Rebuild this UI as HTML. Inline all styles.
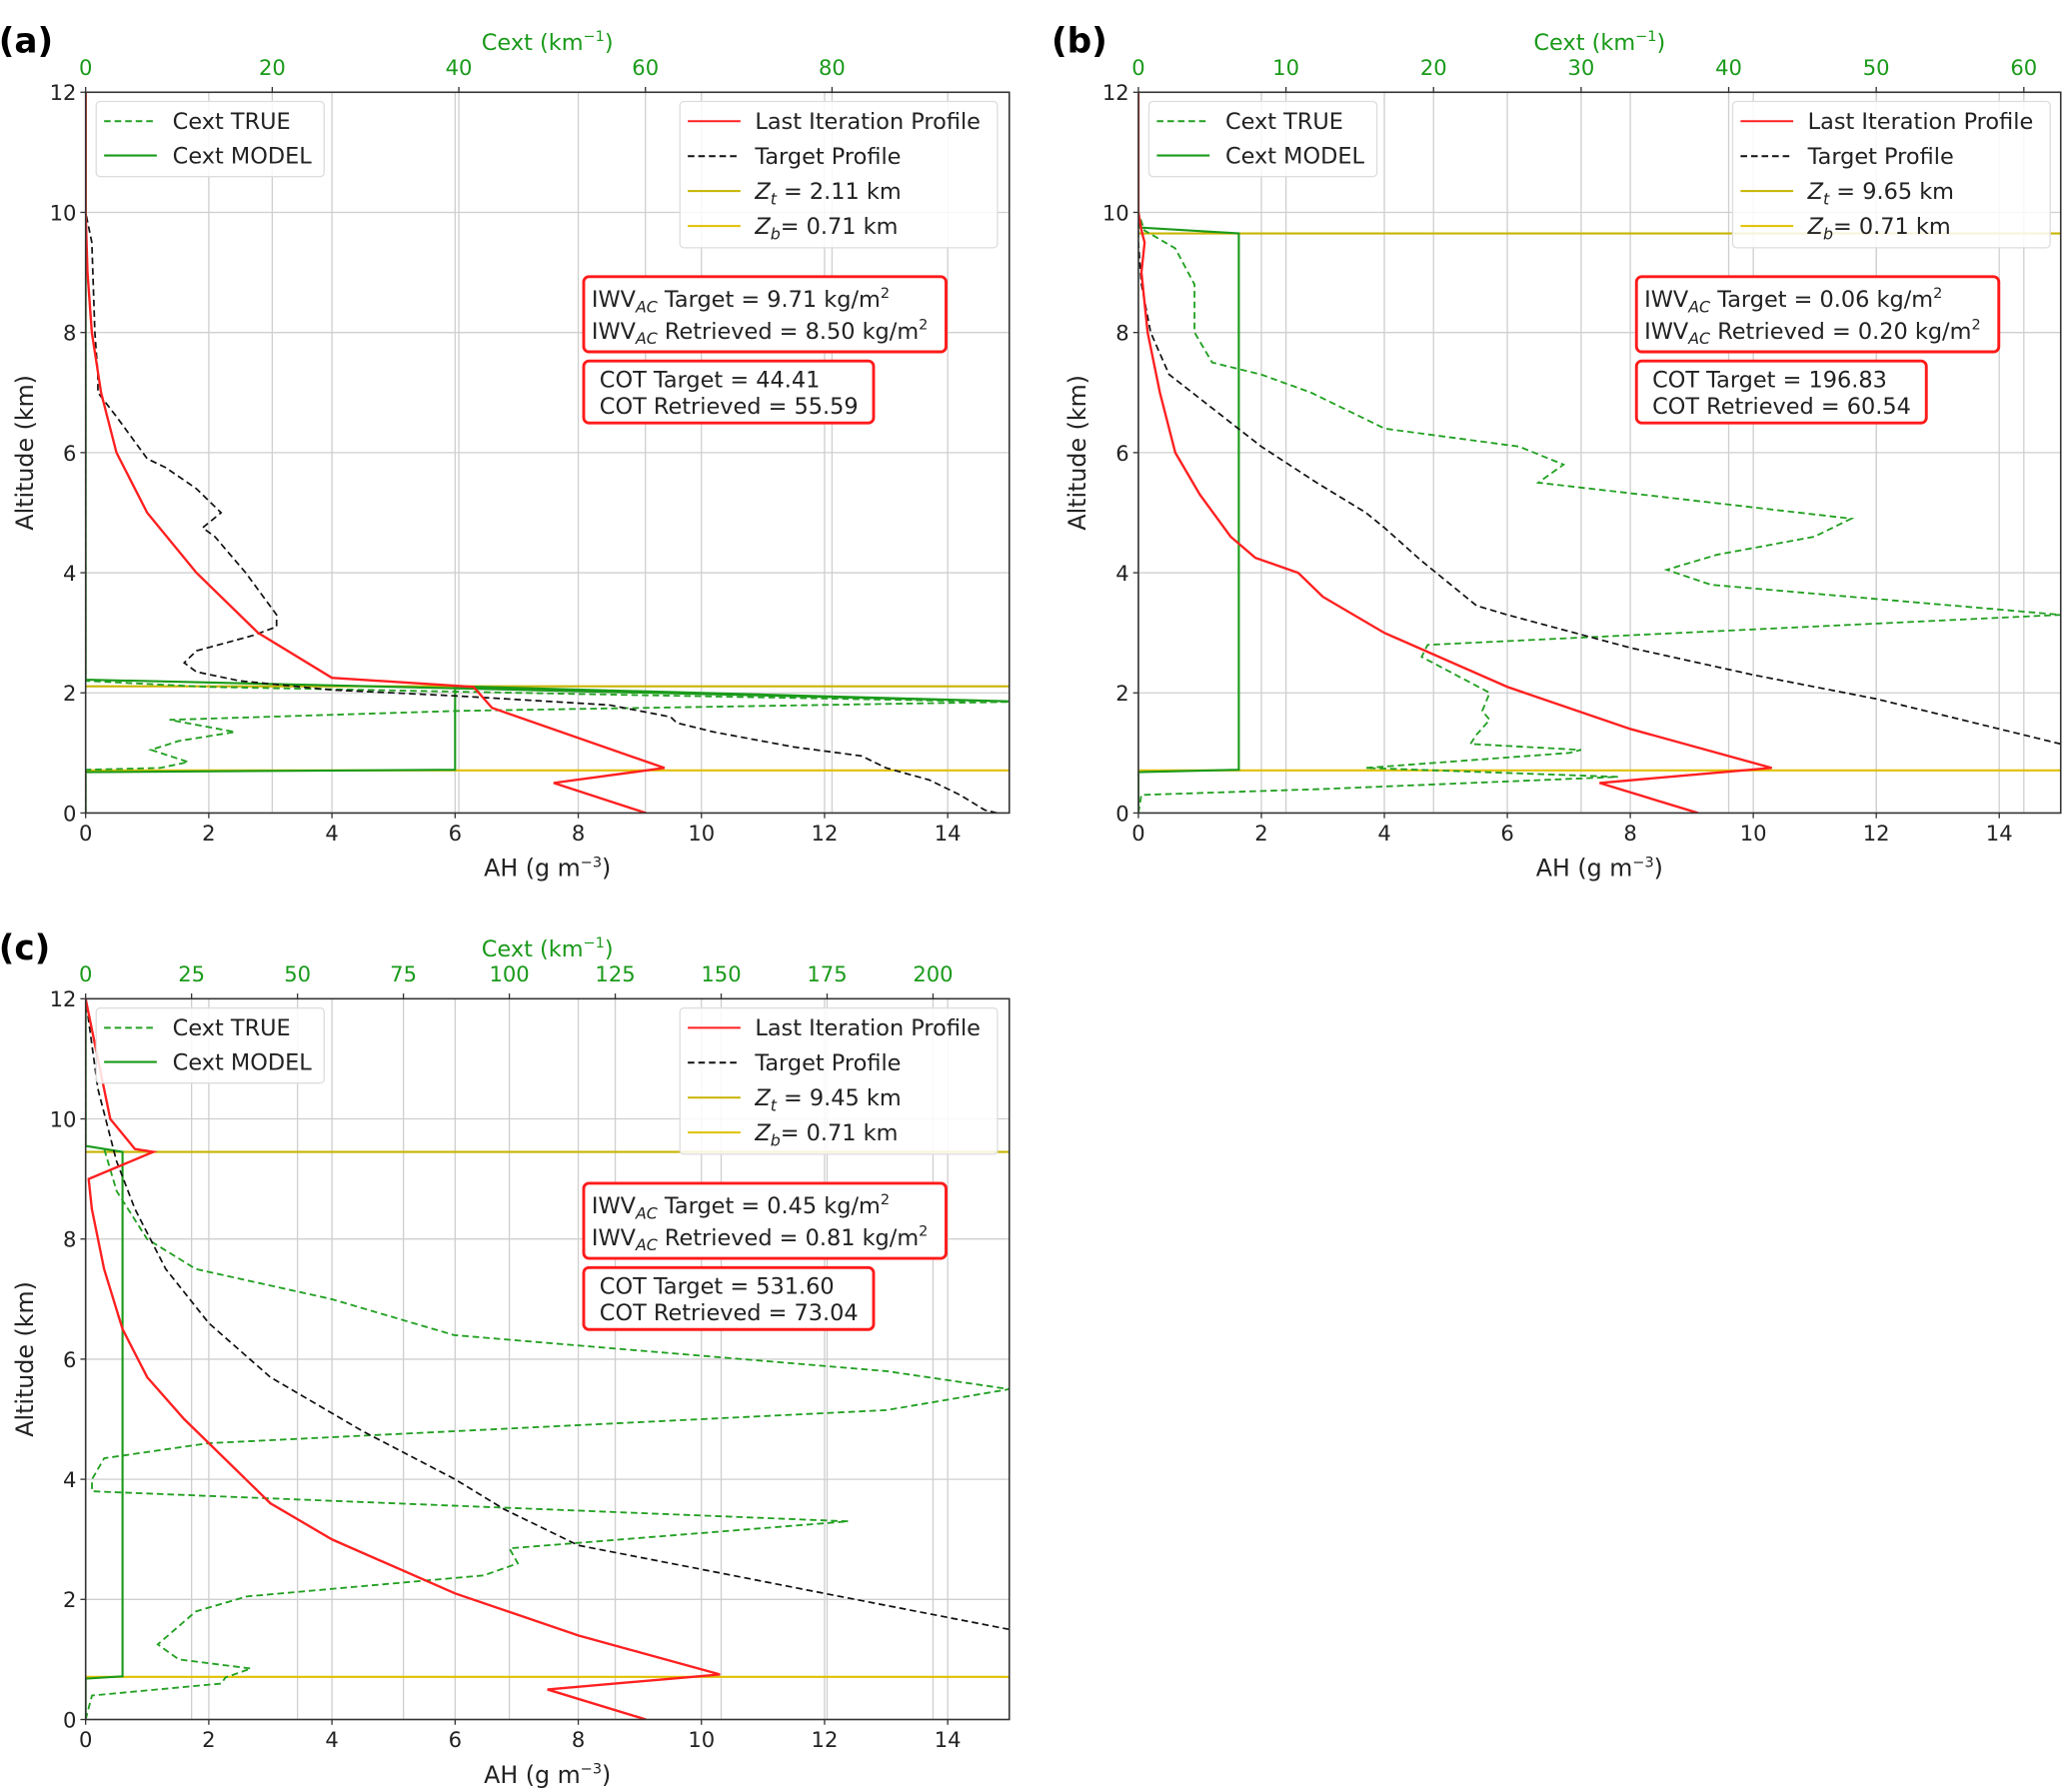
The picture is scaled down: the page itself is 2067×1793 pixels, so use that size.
<!DOCTYPE html>
<html><head><meta charset="utf-8"><style>
html,body{margin:0;padding:0;background:#fff}
svg{display:block;font-family:"DejaVu Sans","Liberation Sans",sans-serif}
</style></head><body>
<svg id="fig" xmlns="http://www.w3.org/2000/svg" width="2067" height="1793" viewBox="0 0 1568 1360" preserveAspectRatio="none"></svg>
<script>
// ---- data (AH in g m^-3, altitude km, Cext km^-1) ----
const altTicks=[0,2,4,6,8,10,12];
const ahTicks=[0,2,4,6,8,10,12,14];
const cextTicksA=[0,20,40,60,80];
const cextTicksB=[0,10,20,30,40,50,60];
const cextTicksC=[0,25,50,75,100,125,150,175,200];
const redA_ah=[9.1,7.6,9.4,6.6,6.3,4,2.8,1.8,1,0.5,0.25,0.1,0.03,0,0];
const redA_alt=[0,0.5,0.75,1.75,2.1,2.25,3,4,5,6,7,8,9,10,12];
const tgtA_ah=[14.8,14.6,14.2,13.7,13,12.6,11.5,10.2,9.6,9.5,8.5,6,4,2.5,1.8,1.6,1.8,2.7,3.1,3.1,2.6,2.1,1.9,2.2,1.8,1.3,1,0.5,0.2,0.2,0.15,0.1,0,0];
const tgtA_alt=[0,0.05,0.3,0.55,0.75,0.95,1.1,1.35,1.5,1.6,1.8,1.95,2.05,2.2,2.35,2.5,2.7,2.95,3.1,3.3,4,4.6,4.75,5,5.4,5.75,5.9,6.6,7,7.3,8,9.5,10,12];
const trueA_c=[0,0,8,11,7,10,16,9,40,99,53,13,0,0];
const trueA_alt=[0,0.72,0.75,0.85,1.05,1.2,1.35,1.55,1.7,1.85,1.98,2.1,2.2,12];
const modA_c=[0,0,39.6,39.6,99,0,0];
const modA_alt=[0,0.68,0.72,2.11,1.86,2.22,12];
const redB_ah=[9.1,7.5,10.3,8,6,4,3,2.6,1.9,1.5,1,0.6,0.35,0.15,0.05,0.1,0.05,0,0];
const redB_alt=[0,0.5,0.75,1.4,2.1,3,3.6,4,4.25,4.6,5.3,6,7,8,9,9.5,9.7,10,12];
const tgtB_ah=[15,12,10,8,6,5.5,4.6,4,3.7,2.9,2,1.5,0.5,0.2,0.05,0,0];
const tgtB_alt=[1.15,1.9,2.3,2.75,3.3,3.45,4.2,4.75,5,5.5,6.1,6.5,7.3,8,8.8,9.5,12];
const trueB_c=[0,0.2,12.5,32.5,15.4,29.2,30,22.5,22.9,23.8,23.3,23.8,19.2,19.6,62.5,38.8,35.8,39.2,45.8,48.3,27.1,28.8,25.8,16.7,11.7,8.3,5,3.8,3.8,2.5,0.4,0,0];
const trueB_alt=[0,0.3,0.4,0.6,0.75,1,1.05,1.15,1.3,1.55,1.7,2,2.6,2.8,3.3,3.8,4.05,4.3,4.6,4.9,5.5,5.8,6.1,6.4,7,7.3,7.5,8,8.8,9.4,9.7,10,12];
const modB_c=[0,0,6.8,6.8,0,0];
const modB_alt=[0,0.68,0.72,9.65,9.75,12];
const redC_ah=[9.1,7.5,10.3,8,6,4,3,2,1.6,1,0.6,0.3,0.1,0.05,1.1,0.8,0.4,0.2,0];
const redC_alt=[0,0.5,0.75,1.4,2.1,3,3.6,4.6,5,5.7,6.5,7.5,8.5,9,9.45,9.5,10,11,12];
const tgtC_ah=[15,12,10,8,6.8,6,4.5,3,2,1.3,0.8,0.5,0.2,0];
const tgtC_alt=[1.5,2.1,2.5,2.9,3.5,4,4.8,5.7,6.6,7.5,8.5,9.3,10.5,12];
const trueC_c=[0,1.5,32,33,39,22,17,26,38,94,102,100,180,1.5,1.5,4.4,29,189,218,189,87,58,26,14.5,7.3,4.4,0,0];
const trueC_alt=[0,0.4,0.6,0.7,0.85,1,1.25,1.8,2.05,2.4,2.6,2.85,3.3,3.8,4,4.35,4.6,5.15,5.5,5.8,6.4,7,7.5,8,8.8,9.5,9.55,12];
const modC_c=[0,0,8.7,8.7,0,0];
const modC_alt=[0,0.68,0.72,9.45,9.55,12];

const NS="http://www.w3.org/2000/svg";
const svg=document.getElementById('fig');
function mk(tag,attrs,parent){const e=document.createElementNS(NS,tag);for(const k in attrs)e.setAttribute(k,attrs[k]);(parent||svg).appendChild(e);return e;}
function txt(x,y,s,attrs,parent){const e=mk('text',Object.assign({x:x,y:y},attrs),parent);e.innerHTML=s;return e;}

function panel(o){
  const g=mk('g',{});
  
  
  const L=o.x0,R=o.x1,T=o.y0,B=o.y1;
  const xA=v=>L+(v/15)*(R-L);
  const xC=v=>L+(v/o.cmax)*(R-L);
  const y=v=>B-(v/12)*(B-T);
  const clip='clip'+o.id;
  const cp=mk('clipPath',{id:clip},g);mk('rect',{x:L,y:T,width:R-L,height:B-T},cp);
  // grids
  altTicks.forEach(t=>{const l=mk('line',{x1:L,x2:R,y1:y(t),y2:y(t),stroke:'#cfcfcf','stroke-width':1},g);});
  ahTicks.forEach(t=>{const l=mk('line',{x1:xA(t),x2:xA(t),y1:T,y2:B,stroke:'#cfcfcf','stroke-width':1},g);});
  o.cticks.forEach(t=>{const l=mk('line',{x1:xC(t),x2:xC(t),y1:T,y2:B,stroke:'#cfcfcf','stroke-width':1},g);});
  const pg=mk('g',{'clip-path':'url(#'+clip+')'},g);
  function line(xs,ys,fx,attrs,name){
    const pts=xs.map((v,i)=>fx(v).toFixed(1)+','+y(ys[i]).toFixed(1)).join(' ');
    const p=mk('polyline',Object.assign({points:pts,fill:'none'},attrs),pg);
    
    
  }
  // Z lines
  [o.zt,o.zb].forEach((z,i)=>{const l=mk('line',{x1:L,x2:R,y1:y(z),y2:y(z),stroke:i?'#e0c000':'#c8b400','stroke-width':1.6},pg);});
  line(o.modC,o.modAlt,xC,{stroke:'#1a9a1a','stroke-width':1.6},'cext-model-line');
  line(o.trueC,o.trueAlt,xC,{stroke:'#22a022','stroke-width':1.4,'stroke-dasharray':'5,3'},'cext-true-line');
  line(o.tgtAh,o.tgtAlt,xA,{stroke:'#111','stroke-width':1.3,'stroke-dasharray':'5,3'},'target-profile-line');
  line(o.redAh,o.redAlt,xA,{stroke:'#ff2020','stroke-width':1.8},'last-iteration-line');
  // frame
  const f=mk('rect',{x:L,y:T,width:R-L,height:B-T,fill:'none',stroke:'#333','stroke-width':1.2},g);
  
  // ticks
  altTicks.forEach(t=>{mk('line',{x1:L-4,x2:L,y1:y(t),y2:y(t),stroke:'#333'},g);const e=txt(L-7,y(t)+6,t,{'font-size':16,'text-anchor':'end',fill:'#222'},g);});
  ahTicks.forEach(t=>{mk('line',{x1:xA(t),x2:xA(t),y1:B,y2:B+4,stroke:'#333'},g);const e=txt(xA(t),B+21,t,{'font-size':16,'text-anchor':'middle',fill:'#222'},g);});
  o.cticks.forEach(t=>{mk('line',{x1:xC(t),x2:xC(t),y1:T-4,y2:T,stroke:'#333'},g);const e=txt(xC(t),T-13,t,{'font-size':16,'text-anchor':'middle',fill:'#1a9a1a'},g);});
  let e;
  e=txt((L+R)/2,B+48,'AH (g m<tspan dy="-7" font-size="11">−3</tspan><tspan dy="7">)</tspan>',{'font-size':18,'text-anchor':'middle',fill:'#222'},g);
  e=txt((L+R)/2,T-32,'Cext (km<tspan dy="-7" font-size="11">−1</tspan><tspan dy="7">)</tspan>',{'font-size':17,'text-anchor':'middle',fill:'#1a9a1a'},g);
  e=txt(0,0,'Altitude (km)',{'font-size':18,'text-anchor':'middle',fill:'#222',transform:`translate(${L-40},${(T+B)/2}) rotate(-90)`},g);
  e=txt(L-66,T-30,'('+o.id+')',{'font-size':26,'font-weight':'bold',fill:'#000'},g);
  // left legend
  const lg=mk('g',{},g);
  mk('rect',{x:L+8,y:T+7,width:173,height:57,fill:'#fff','fill-opacity':0.85,stroke:'#ddd',rx:3},lg);
  mk('line',{x1:L+14,x2:L+54,y1:T+22,y2:T+22,stroke:'#22a022','stroke-width':1.5,'stroke-dasharray':'5,3'},lg);
  txt(L+66,T+28,'Cext TRUE',{'font-size':17,fill:'#222'},lg);
  mk('line',{x1:L+14,x2:L+54,y1:T+48,y2:T+48,stroke:'#1a9a1a','stroke-width':1.6},lg);
  txt(L+66,T+54,'Cext MODEL',{'font-size':17,fill:'#222'},lg);
  // right legend
  const rg=mk('g',{},g);
  const rx=L+451;
  mk('rect',{x:rx,y:T+7,width:241,height:111,fill:'#fff','fill-opacity':0.85,stroke:'#ddd',rx:3},rg);
  const items=[['#ff2020','','Last Iteration Profile'],['#111','5,3','Target Profile'],['#c8b400','','<tspan font-style="italic">Z</tspan><tspan font-style="italic" font-size="12" dy="4">t</tspan><tspan dy="-4"> = '+o.zt.toFixed(2)+' km</tspan>'],['#e0c000','','<tspan font-style="italic">Z</tspan><tspan font-style="italic" font-size="12" dy="4">b</tspan><tspan dy="-4">= 0.71 km</tspan>']];
  items.forEach((it,i)=>{const yy=T+22+i*26.5;mk('line',{x1:rx+6,x2:rx+46,y1:yy,y2:yy,stroke:it[0],'stroke-width':1.5,'stroke-dasharray':it[1]||'none'},rg);txt(rx+57,yy+6,it[2],{'font-size':17,fill:'#222'},rg);});
  // text boxes
  const b1=mk('g',{},g);
  mk('rect',{x:L+378,y:T+140,width:275,height:57,fill:'#fff',stroke:'#ff1a1a','stroke-width':2.2,rx:4},b1);
  txt(L+384,T+163,'IWV<tspan font-style="italic" font-size="12" dy="4">AC</tspan><tspan dy="-4"> Target = '+o.iwv[0]+' kg/m</tspan><tspan font-size="11" dy="-7">2</tspan>',{'font-size':17,fill:'#222'},b1);
  txt(L+384,T+187,'IWV<tspan font-style="italic" font-size="12" dy="4">AC</tspan><tspan dy="-4"> Retrieved = '+o.iwv[1]+' kg/m</tspan><tspan font-size="11" dy="-7">2</tspan>',{'font-size':17,fill:'#222'},b1);
  const b2=mk('g',{},g);
  mk('rect',{x:L+378,y:T+204,width:220,height:47,fill:'#fff',stroke:'#ff1a1a','stroke-width':2.2,rx:4},b2);
  txt(L+390,T+224,'COT Target =  '+o.cot[0],{'font-size':17,fill:'#222'},b2);
  txt(L+390,T+244,'COT Retrieved = '+o.cot[1],{'font-size':17,fill:'#222'},b2);
}
panel({id:'a',x0:65,x1:766,y0:70,y1:617,cmax:99,cticks:cextTicksA,zt:2.11,zb:0.71,redAh:redA_ah,redAlt:redA_alt,tgtAh:tgtA_ah,tgtAlt:tgtA_alt,trueC:trueA_c,trueAlt:trueA_alt,modC:modA_c,modAlt:modA_alt,iwv:['9.71','8.50'],cot:['44.41','55.59']});
panel({id:'b',x0:864,x1:1564,y0:70,y1:617,cmax:62.5,cticks:cextTicksB,zt:9.65,zb:0.71,redAh:redB_ah,redAlt:redB_alt,tgtAh:tgtB_ah,tgtAlt:tgtB_alt,trueC:trueB_c,trueAlt:trueB_alt,modC:modB_c,modAlt:modB_alt,iwv:['0.06','0.20'],cot:['196.83','60.54']});
panel({id:'c',x0:65,x1:766,y0:758,y1:1305,cmax:218,cticks:cextTicksC,zt:9.45,zb:0.71,redAh:redC_ah,redAlt:redC_alt,tgtAh:tgtC_ah,tgtAlt:tgtC_alt,trueC:trueC_c,trueAlt:trueC_alt,modC:modC_c,modAlt:modC_alt,iwv:['0.45','0.81'],cot:['531.60','73.04']});
</script>
</body></html>
